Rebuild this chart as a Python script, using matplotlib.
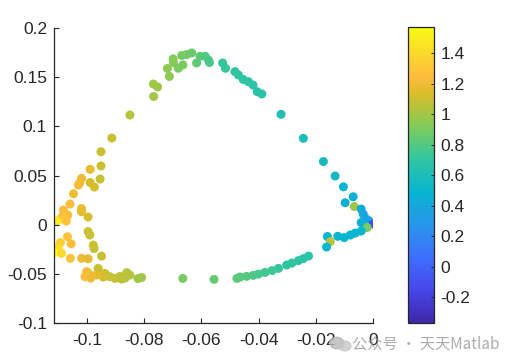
import numpy as np
import matplotlib
matplotlib.use("Agg")
import matplotlib.pyplot as plt
from matplotlib.colors import LinearSegmentedColormap
from matplotlib.patches import Ellipse

# ---- data ----
x_vals = [
    -0.0913, -0.0850, -0.0768, -0.0753, -0.0767, -0.0719, -0.0712, -0.0699, -0.0698, -0.0681,
    -0.0665, -0.0669, -0.0651, -0.0634, -0.0617, -0.0605, -0.0587, -0.0576, -0.0572, -0.0526,
    -0.0516, -0.0483, -0.0471, -0.0454, -0.0436, -0.0420, -0.0405, -0.0389, -0.0322, -0.0244,
    -0.0174, -0.0133,
    -0.0104, -0.0070, -0.0098, -0.0066, -0.0042, -0.0035, -0.0028, -0.0016, -0.0042, 0.0000,
    -0.0021, -0.0042, -0.0063, -0.0080, -0.0101, -0.0124, -0.0160, -0.0150, -0.0163,
    -0.0226, -0.0244, -0.0261, -0.0284, -0.0302, -0.0331, -0.0353, -0.0378, -0.0401, -0.0419,
    -0.0442, -0.0465, -0.0476, -0.0556, -0.0665, -0.0809, -0.0822, -0.0861, -0.0879, -0.0885,
    -0.0902, -0.0920, -0.0937, -0.0943, -0.0955, -0.0961, -0.0966, -0.0984, -0.0996, -0.1001,
    -0.1007, -0.0987, -0.0867, -0.0850,
    -0.0949, -0.0975, -0.0978, -0.0990, -0.0996, -0.0996, -0.1019, -0.1019, -0.1047, -0.1059,
    -0.1082, -0.1067, -0.1093, -0.1105, -0.1072, -0.1068, -0.1055, -0.1093, -0.1101, -0.1112,
    -0.1089, -0.1058, -0.1019, -0.0996, -0.1025, -0.0989, -0.0974, -0.0954, -0.0989, -0.0951,
    -0.0951, -0.1019, -0.1030, -0.1084,
]
y_vals = [
    0.0881, 0.1115, 0.1430, 0.1400, 0.1303, 0.1588, 0.1507, 0.1685, 0.1647, 0.1590,
    0.1624, 0.1720, 0.1730, 0.1746, 0.1644, 0.1712, 0.1712, 0.1675, 0.1649, 0.1644,
    0.1590, 0.1556, 0.1522, 0.1476, 0.1454, 0.1420, 0.1352, 0.1329, 0.1122, 0.0878,
    0.0642, 0.0495,
    0.0385, 0.0284, 0.0223, 0.0185, 0.0159, 0.0108, 0.0068, 0.0042, 0.0022, 0.0007,
    -0.0029, -0.0065, -0.0085, -0.0105, -0.0131, -0.0118, -0.0120, -0.0173, -0.0227,
    -0.0319, -0.0344, -0.0365, -0.0390, -0.0410, -0.0444, -0.0466, -0.0485, -0.0502, -0.0515,
    -0.0525, -0.0532, -0.0546, -0.0556, -0.0546, -0.0537, -0.0548, -0.0487, -0.0553, -0.0527,
    -0.0546, -0.0529, -0.0495, -0.0532, -0.0495, -0.0444, -0.0512, -0.0517, -0.0495, -0.0478,
    -0.0529, -0.0543, -0.0543, -0.0512,
    -0.0319, -0.0243, -0.0207, -0.0105, -0.0070, 0.0078, 0.0164, 0.0132, 0.0315, 0.0210,
    0.0149, 0.0098, 0.0058, 0.0037, 0.0037, -0.0122, -0.0194, -0.0182, -0.0240, -0.0283,
    -0.0291, -0.0342, -0.0342, -0.0346, 0.0424, 0.0429, 0.0383, 0.0464, 0.0563, 0.0597,
    0.0742, 0.0471, 0.0403, 0.0093,
]
c_vals = [
    1.10, 1.05, 1.00, 1.00, 1.00, 0.95, 0.95, 0.93, 0.93, 0.90,
    0.90, 0.90, 0.88, 0.87, 0.83, 0.82, 0.80, 0.78, 0.77, 0.72,
    0.72, 0.70, 0.70, 0.69, 0.69, 0.68, 0.67, 0.67, 0.63, 0.60,
    0.57, 0.55,
    0.50, 0.47, 0.47, 1.00, 0.42, 0.40, 0.38, 0.35, 0.45, -0.10,
    0.90, 0.50, 0.50, 0.50, 0.50, 0.50, 0.50, 1.05, 0.50,
    0.68, 0.68, 0.69, 0.70, 0.70, 0.72, 0.73, 0.75, 0.76, 0.78,
    0.80, 0.80, 0.82, 0.85, 0.90, 1.00, 1.00, 1.05, 1.05, 1.07,
    1.08, 1.08, 1.10, 1.12, 1.12, 1.10, 1.17, 1.20, 1.20, 1.22,
    1.24, 1.20, 1.05, 1.05,
    1.08, 1.08, 1.10, 1.10, 1.10, 1.12, 1.17, 1.17, 1.20, 1.24,
    1.24, 1.26, 1.35, 1.50, 1.28, 1.28, 1.26, 1.35, 1.40, 1.55,
    1.40, 1.28, 1.20, 1.17, 1.20, 1.12, 1.12, 1.08, 1.17, 1.10,
    1.10, 1.20, 1.22, 1.28,
]
x_ticks = [-0.1, -0.08, -0.06, -0.04, -0.02, 0]
y_ticks = [-0.1, -0.05, 0, 0.05, 0.1, 0.15, 0.2]
x_ticklabels = ["-0.1", "-0.08", "-0.06", "-0.04", "-0.02", "0"]
y_ticklabels = ["-0.1", "-0.05", "0", "0.05", "0.1", "0.15", "0.2"]
cb_ticks = [-0.2, 0, 0.2, 0.4, 0.6, 0.8, 1.0, 1.2, 1.4]
cb_ticklabels = ["-0.2", "0", "0.2", "0.4", "0.6", "0.8", "1", "1.2", "1.4"]
c_lim = (-0.37, 1.57)
x_lim = (-0.1115, 0.0)
y_lim = (-0.1, 0.2)

# ---- parula colormap (MATLAB R2017a+ anchors) ----
parula_anchors = [
    (0 / 9, [0.2422, 0.1504, 0.6603]),
    (1 / 9, [0.2803, 0.2782, 0.9221]),
    (2 / 9, [0.2440, 0.4358, 0.9988]),
    (3 / 9, [0.1540, 0.5902, 0.9218]),
    (4 / 9, [0.0297, 0.7082, 0.8163]),
    (5 / 9, [0.1938, 0.7758, 0.6251]),
    (6 / 9, [0.5044, 0.7993, 0.3480]),
    (7 / 9, [0.8634, 0.7406, 0.1596]),
    (0.835, [0.9950, 0.7350, 0.2450]),
    (8 / 9, [0.9892, 0.8136, 0.1885]),
    (9 / 9, [0.9769, 0.9839, 0.0805]),
]
parula = LinearSegmentedColormap.from_list("parula", parula_anchors, N=256)

plt.rcParams['font.family'] = ['Liberation Sans', 'DejaVu Sans']
dark = (0.15, 0.15, 0.15)

fig = plt.figure(figsize=(5.05, 3.63), dpi=100)
ax = fig.add_axes([0.107, 0.110, 0.632, 0.813])
sc = ax.scatter(x_vals, y_vals, c=c_vals, cmap=parula, vmin=c_lim[0], vmax=c_lim[1],
                s=42, linewidths=0)
ax.set_xlim(*x_lim)
ax.set_ylim(*y_lim)
ax.set_xticks(x_ticks)
ax.set_xticklabels(x_ticklabels)
ax.set_yticks(y_ticks)
ax.set_yticklabels(y_ticklabels)
for s in ['top', 'right']:
    ax.spines[s].set_visible(False)
for s in ['left', 'bottom']:
    ax.spines[s].set_color(dark)
    ax.spines[s].set_linewidth(0.9)
ax.tick_params(direction='in', length=3.5, width=0.8, colors=dark, labelsize=12.5)
ax.tick_params(axis='x', pad=7)
ax.tick_params(axis='y', pad=5)

cax = fig.add_axes([0.808, 0.110, 0.0515, 0.815])
cb = fig.colorbar(sc, cax=cax)
cb.set_ticks(cb_ticks)
cb.set_ticklabels(cb_ticklabels)
cb.outline.set_edgecolor(dark)
cb.outline.set_linewidth(0.9)
cax.tick_params(direction='in', length=2.5, width=0.7, colors=dark, labelsize=12.5, pad=4.5)

# watermark
fig.add_artist(Ellipse((0.667, 0.055), 0.028, 0.032, transform=fig.transFigure,
                       color=(0.72, 0.72, 0.72), alpha=0.8, zorder=5))
fig.add_artist(Ellipse((0.683, 0.047), 0.024, 0.027, transform=fig.transFigure,
                       color=(0.78, 0.78, 0.78), alpha=0.8, zorder=5))
fig.text(0.697, 0.053, "公众号 · 天天Matlab", fontsize=11, color=(0.62, 0.62, 0.62),
         alpha=0.85, va='center', ha='left', family=['Noto Sans CJK SC', 'DejaVu Sans'], zorder=6)

fig.savefig("out.png", dpi=100)
